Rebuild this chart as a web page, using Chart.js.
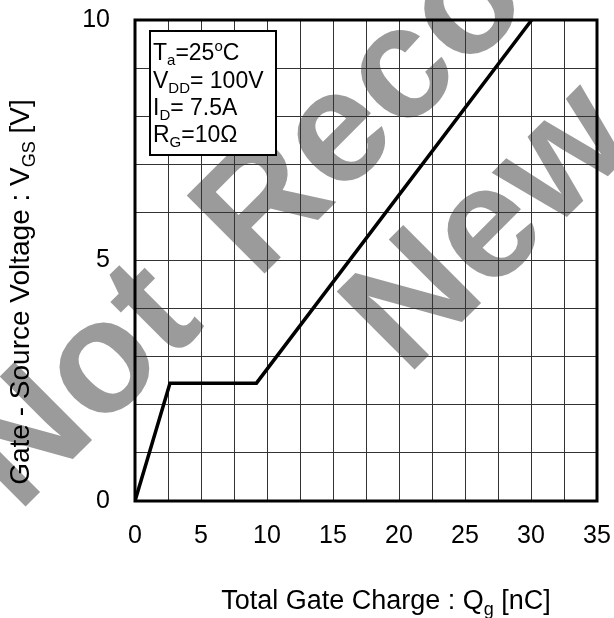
<!DOCTYPE html>
<html>
<head>
<meta charset="utf-8">
<script src="https://cdn.jsdelivr.net/npm/chart.js@4"></script>
<style>
html,body{margin:0;padding:0;background:#fff;}
#wrap{width:614px;height:618px;position:relative;}
</style>
</head>
<body>
<div id="wrap"><canvas id="c" width="614" height="618"></canvas></div>
<script>
// Data
const chargeQg = [0, 2.65, 9.2, 30.05];     // nC
const voltageVgs = [0, 2.45, 2.45, 10];     // V
const xTickLabels = [0, 5, 10, 15, 20, 25, 30, 35];
const yTickLabels = [0, 5, 10];
const conditionLines = [
  ['T', 'a', '=25', 'o', 'C'],
  ['V', 'DD', '= 100V', '', ''],
  ['I', 'D', '= 7.5A', '', ''],
  ['R', 'G', '=10\u03A9', '', '']
];
const watermarkWords = ['Not', 'Recommended', 'New'];

const FONT = '"Liberation Sans", Arial, Helvetica, sans-serif';

const points = chargeQg.map((q, i) => ({x: q, y: voltageVgs[i]}));

function drawSubText(ctx, parts, x, y, size) {
  ctx.font = size + 'px ' + FONT;
  ctx.fillText(parts[0], x, y); x += ctx.measureText(parts[0]).width;
  const subSize = Math.round(size * 0.65);
  if (parts[1]) {
    ctx.font = subSize + 'px ' + FONT;
    ctx.fillText(parts[1], x, y + size * 0.22); x += ctx.measureText(parts[1]).width;
  }
  ctx.font = size + 'px ' + FONT;
  if (parts[2]) { ctx.fillText(parts[2], x, y); x += ctx.measureText(parts[2]).width; }
  if (parts[3]) {
    ctx.font = subSize + 'px ' + FONT;
    ctx.fillText(parts[3], x, y - size * 0.38); x += ctx.measureText(parts[3]).width;
  }
  ctx.font = size + 'px ' + FONT;
  if (parts[4]) { ctx.fillText(parts[4], x, y); x += ctx.measureText(parts[4]).width; }
  return x;
}

function measureSubText(ctx, parts, size) {
  let w = 0;
  const subSize = Math.round(size * 0.65);
  parts.forEach((p, i) => {
    if (!p) return;
    ctx.font = ((i === 1 || i === 3) ? subSize : size) + 'px ' + FONT;
    w += ctx.measureText(p).width;
  });
  return w;
}

const decorPlugin = {
  id: 'decor',
  beforeDraw(chart) {
    const ctx = chart.ctx;
    ctx.save();
    ctx.fillStyle = '#fff';
    ctx.fillRect(0, 0, chart.width, chart.height);
    // watermark
    ctx.fillStyle = '#9b9b9b';
    ctx.font = 'bold 160px ' + FONT;
    ctx.textBaseline = 'alphabetic';
    ctx.textAlign = 'left';
    const origins = [[18, 514], [257, 281], [407, 377]];
    watermarkWords.forEach((t, i) => {
      ctx.save();
      ctx.translate(origins[i][0], origins[i][1]);
      ctx.rotate(-Math.PI / 4);
      ctx.fillText(t, 0, 0);
      ctx.restore();
    });
    ctx.restore();
  },
  afterDraw(chart) {
    const ctx = chart.ctx;
    const a = chart.chartArea;
    ctx.save();
    // frame
    ctx.strokeStyle = '#000';
    ctx.lineWidth = 3;
    ctx.strokeRect(a.left, a.top, a.right - a.left, a.bottom - a.top);
    // conditions box
    ctx.fillStyle = '#fff';
    ctx.fillRect(150, 31, 126, 124);
    ctx.lineWidth = 2;
    ctx.strokeRect(150, 31, 126, 124);
    ctx.fillStyle = '#000';
    ctx.textBaseline = 'alphabetic';
    ctx.textAlign = 'left';
    const baselines = [60, 87.5, 114.5, 142];
    conditionLines.forEach((parts, i) => drawSubText(ctx, parts, 153, baselines[i], 23));
    // x title
    const xt = ['Total Gate Charge : Q', 'g', ' [nC]', '', ''];
    const xw = measureSubText(ctx, xt, 27);
    drawSubText(ctx, xt, 386 - xw / 2, 609, 27);
    // y title
    const yt = ['Gate - Source Voltage : V', 'GS', ' [V]', '', ''];
    const yw = measureSubText(ctx, yt, 28);
    ctx.save();
    ctx.translate(29, 292);
    ctx.rotate(-Math.PI / 2);
    drawSubText(ctx, yt, -yw / 2, 0, 28);
    ctx.restore();
    ctx.restore();
  }
};

new Chart(document.getElementById('c'), {
  type: 'scatter',
  data: {
    datasets: [{
      data: points,
      showLine: true,
      borderColor: '#000',
      borderWidth: 3.5,
      pointRadius: 0,
      tension: 0,
      fill: false
    }]
  },
  options: {
    responsive: false,
    animation: false,
    devicePixelRatio: 1,
    layout: {padding: {top: 20, right: 17, left: 0, bottom: 0}},
    plugins: {legend: {display: false}, tooltip: {enabled: false}},
    scales: {
      x: {
        type: 'linear', min: 0, max: 35,
        ticks: {
          stepSize: 2.5,
          autoSkip: false,
          maxRotation: 0,
          padding: 20,
          color: '#000',
          font: {family: FONT, size: 25},
          callback: v => xTickLabels.includes(v) ? String(v) : ''
        },
        grid: {color: '#333', lineWidth: 1, drawTicks: false},
        border: {display: false},
        afterFit: s => { s.height = 117; s.paddingLeft = 0; s.paddingRight = 0; }
      },
      y: {
        type: 'linear', min: 0, max: 10,
        ticks: {
          stepSize: 1,
          autoSkip: false,
          padding: 25,
          color: '#000',
          font: {family: FONT, size: 25},
          callback: v => yTickLabels.includes(v) ? String(v) : ''
        },
        grid: {color: '#333', lineWidth: 1, drawTicks: false},
        border: {display: false},
        afterFit: s => { s.width = 135; s.paddingTop = 0; s.paddingBottom = 0; }
      }
    }
  },
  plugins: [decorPlugin]
});
</script>
</body>
</html>
